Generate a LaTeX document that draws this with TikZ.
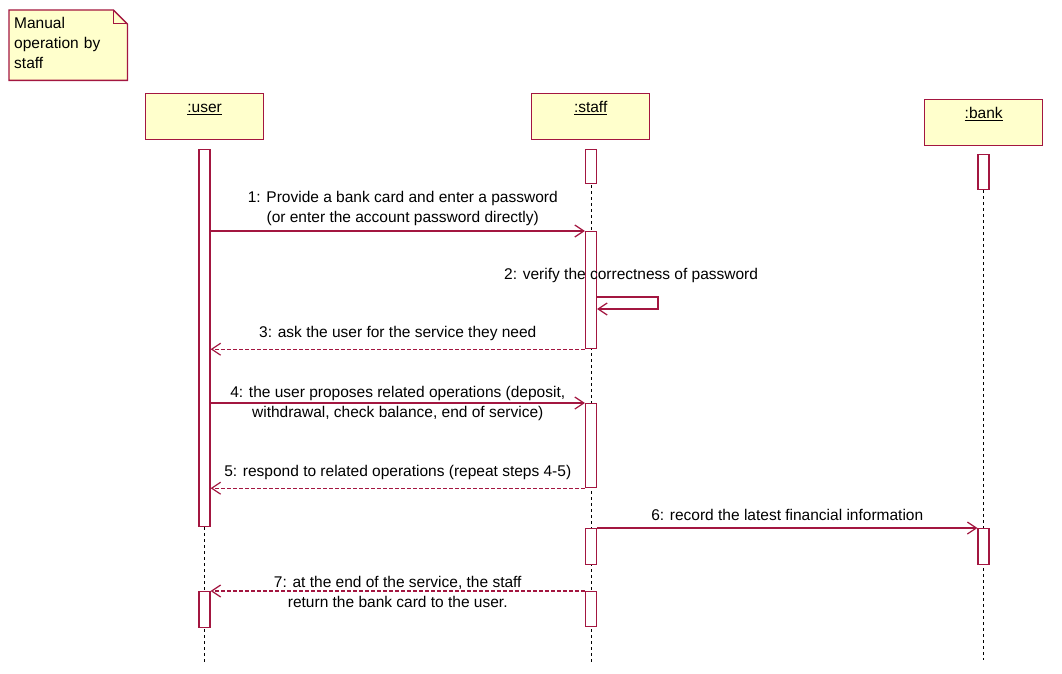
\documentclass[tikz,border=0pt]{standalone}
\usepackage{fontspec}
\setmainfont{Liberation Sans}
\usetikzlibrary{arrows.meta,backgrounds}
\definecolor{umlred}{RGB}{163,22,64}
\definecolor{umlyellow}{RGB}{255,255,204}
\tikzset{
  objeto/.style={
    draw=umlred,
    fill=umlyellow,
    line width=1.3pt,
    minimum width=118pt,
    minimum height=46pt,
    inner sep=0pt,
    anchor=north west,
    label={[anchor=north,inner sep=0pt,yshift=-8pt,text height=11pt,text depth=3pt]north:\underline{#1}}
  },
  activ/.style={
    draw=umlred,
    fill=white,
    line width=1.2pt,
    minimum width=11pt,
    inner sep=0pt,
    anchor=north
  },
  nota/.style={
    anchor=north west,
    minimum width=118pt,
    minimum height=70pt,
    text width=108pt,
    align=left,
    inner sep=5pt
  },
  vida/.style={
    black,
    line width=1pt,
    dash pattern=on 3pt off 3pt
  },
  lbl/.style={
    align=center,
    inner sep=2pt
  },
  msg/.style={
    draw=umlred,
    line width=1.2pt,
    -{Straight Barb[length=9pt,width=12pt]}
  },
  ret/.style={
    msg,
    dash pattern=on 4pt off 2pt
  }
}

\begin{document}
\begin{tikzpicture}[x=1pt,y=-1pt,font=\fontsize{15.5}{20}\selectfont]
\useasboundingbox (0,0) rectangle (1062,674);

% note
\node[nota, yshift=2pt] (nt) at (9,10) {Manual\\operation by\\staff};

% objects
\node[objeto=:user] (user) at (145,93) {};
\node[objeto=:staff] (staff) at (531,93) {};
\node[objeto=:bank] (bank) at (924,99) {};

% activations
\node[activ, minimum height=377pt] (ua1) at (204.5,149) {};
\node[activ, minimum height=36pt] (ua2) at (204.5,591) {};
\node[activ, minimum height=34pt] (sa1) at (591,149) {};
\node[activ, minimum height=117pt] (sa2) at (591,231) {};
\node[activ, minimum height=84pt] (sa3) at (591,403) {};
\node[activ, minimum height=36pt] (sa4) at (591,528) {};
\node[activ, minimum height=35pt] (sa5) at (591,591) {};
\node[activ, minimum height=35pt] (ba1) at (983.5,154) {};
\node[activ, minimum height=36pt] (ba2) at (983.5,528) {};

\begin{scope}[on background layer]
\fill[umlyellow] ([yshift=-2pt]nt.south west) -- ([yshift=-2pt]nt.north west) -- ([xshift=-14pt,yshift=-2pt]nt.north east)
  -- ([yshift=-16pt]nt.north east) -- ([yshift=-2pt]nt.south east) -- cycle;
\draw[umlred, line width=1.3pt] ([yshift=-2pt]nt.south west) -- ([yshift=-2pt]nt.north west) -- ([xshift=-14pt,yshift=-2pt]nt.north east)
  -- ([yshift=-16pt]nt.north east) -- ([yshift=-2pt]nt.south east) -- cycle;
\draw[umlred, line width=1pt] ([xshift=-14pt,yshift=-2pt]nt.north east) -- ([xshift=-14pt,yshift=-16pt]nt.north east)
  -- ([yshift=-16pt]nt.north east);
% lifelines
\draw[vida] (ua1.north) -- (ua1.north |- 0,662);
\draw[vida] (sa1.north) -- (sa1.north |- 0,662);
\draw[vida] (ba1.north) -- (ba1.north |- 0,660);
\end{scope}

% messages
\draw[msg] (ua1.east |- sa2.north) -- node[lbl, above=3pt, xshift=5pt]
  {1: Provide a bank card and enter a password\\(or enter the account password directly)} (sa2.north west);
\coordinate (m2a) at (658,297);
\coordinate (m2b) at (658,309);
\draw[msg] (sa2.east |- m2a) -- (m2a) -- (m2b) -- (sa2.east |- m2b);
\node[lbl, anchor=base west] (l2) at (502,279) {2: verify the correctness of password};
\draw[ret] (sa2.south west) -- node[lbl, above=6pt]
  {3: ask the user for the service they need} (ua1.east |- sa2.south);
\draw[msg] (ua1.east |- sa3.north) -- node[lbl]
  {4: the user proposes related operations (deposit,\\withdrawal, check balance, end of service)} (sa3.north west);
\draw[ret] (sa3.south west) -- node[lbl, above=6pt]
  {5: respond to related operations (repeat steps 4-5)} (ua1.east |- sa3.south);
\draw[msg] (sa4.north east) -- node[lbl, above=5pt]
  {6: record the latest financial information} (ba2.north west);
\draw[ret] (sa5.north west) -- node[lbl, yshift=-1pt]
  {7: at the end of the service, the staff\\return the bank card to the user.} (ua2.north east);
\end{tikzpicture}
\end{document}
